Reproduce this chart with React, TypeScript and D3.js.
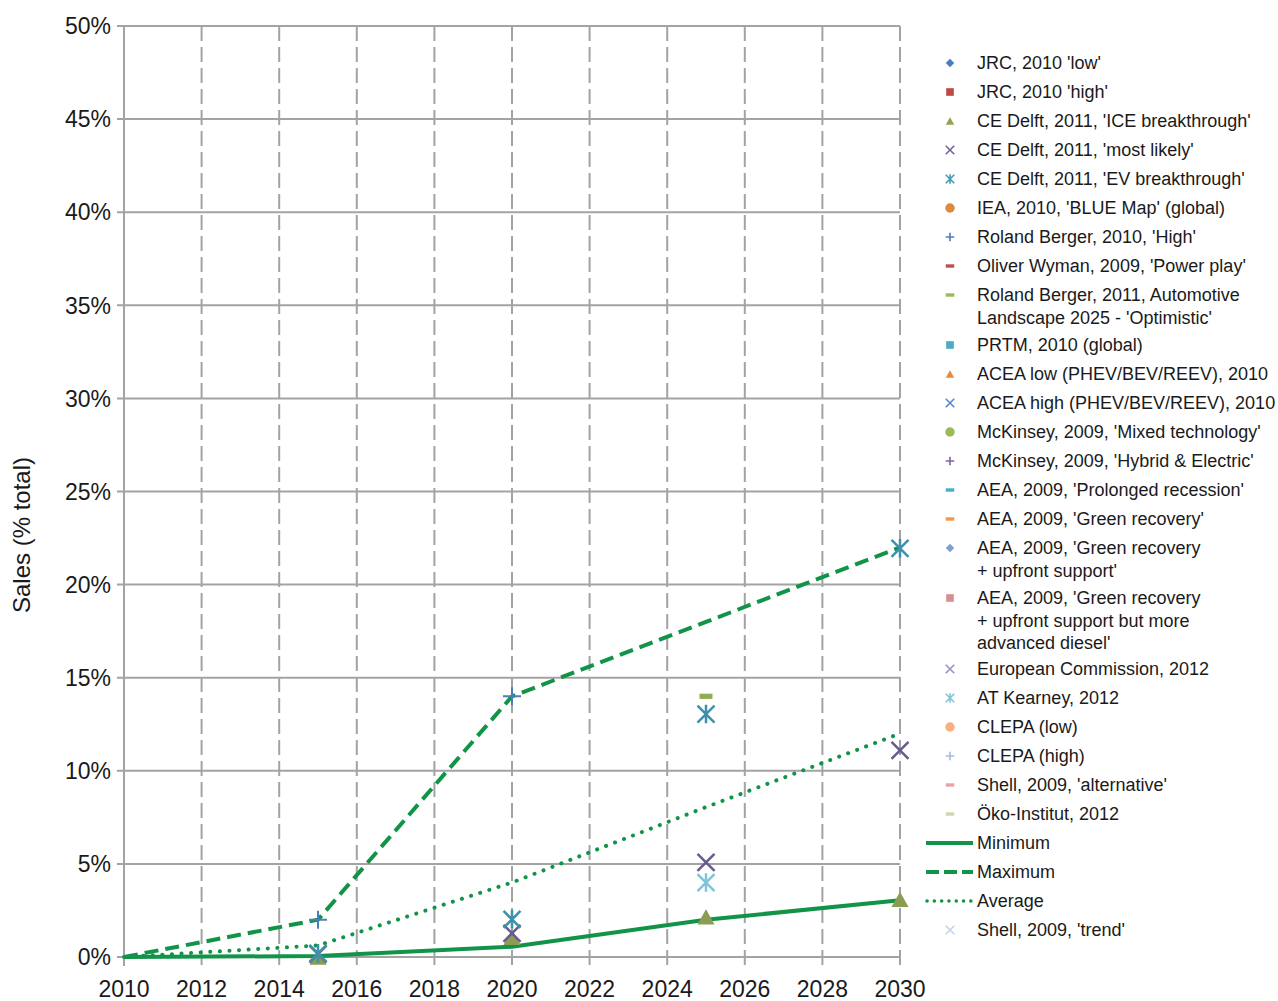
import React from "react";
import * as d3 from "d3";

// ---------- data ----------
const lineYears = [2010, 2015, 2020, 2025, 2030];
const minimumValues = [0, 0.05, 0.55, 2.0, 3.05];
const maximumValues = [0, 2, 14, 18, 22];
const averageValues = [0, 0.62, 4, 8.05, 12];

const rolandBerger2010High = [[2015, 2], [2020, 14]];
const ceDelftIce = [[2015, 0], [2020, 1.05], [2025, 2.15], [2030, 3.1]];
const ceDelftMostLikely = [[2015, 0.15], [2020, 1.27], [2025, 5.08], [2030, 11.1]];
const ceDelftEv = [[2015, 0.2], [2020, 2.02], [2025, 13.05], [2030, 21.95]];
const rolandBerger2011 = [[2025, 14.0]];
const atKearney2012 = [[2025, 4.0]];

const xTicks = [2010, 2012, 2014, 2016, 2018, 2020, 2022, 2024, 2026, 2028, 2030];
const yTicks = [0, 5, 10, 15, 20, 25, 30, 35, 40, 45, 50];

const legendLabels = [
  "JRC, 2010 'low'",
  "JRC, 2010 'high'",
  "CE Delft, 2011, 'ICE breakthrough'",
  "CE Delft, 2011, 'most likely'",
  "CE Delft, 2011, 'EV breakthrough'",
  "IEA, 2010, 'BLUE Map' (global)",
  "Roland Berger, 2010, 'High'",
  "Oliver Wyman, 2009, 'Power play'",
  "Roland Berger, 2011, Automotive\nLandscape 2025 - 'Optimistic'",
  "PRTM, 2010 (global)",
  "ACEA low (PHEV/BEV/REEV), 2010",
  "ACEA high (PHEV/BEV/REEV), 2010",
  "McKinsey, 2009, 'Mixed technology'",
  "McKinsey, 2009, 'Hybrid & Electric'",
  "AEA, 2009, 'Prolonged recession'",
  "AEA, 2009, 'Green recovery'",
  "AEA, 2009, 'Green recovery\n+ upfront support'",
  "AEA, 2009, 'Green recovery\n+ upfront support but more\nadvanced diesel'",
  "European Commission, 2012",
  "AT Kearney, 2012",
  "CLEPA (low)",
  "CLEPA (high)",
  "Shell, 2009, 'alternative'",
  "Öko-Institut, 2012",
  "Minimum",
  "Maximum",
  "Average",
  "Shell, 2009, 'trend'",
];
const legendShapes = [
  "diamond", "square", "triangle", "x", "star", "circle", "plus", "dash", "dash",
  "square", "triangle", "x", "circle", "plus", "dash", "dash", "diamond", "square",
  "x", "star", "circle", "plus", "dash", "dash", "solid", "dashed", "dotted", "x",
];
const legendColors = [
  "#4a7ebb", "#be4b48", "#8fa452", "#7d60a0", "#3f9db8", "#dd8a3e", "#4a7ebb", "#c0504d", "#9bbb59",
  "#4bacc6", "#e98b3c", "#5688cc", "#9bbb59", "#8064a2", "#4bacc6", "#f79646", "#7f9fd3", "#d98f8d",
  "#a08fc0", "#7fc4d9", "#f9b07f", "#a8badf", "#e3a8a6", "#ccd8ae", "#119447", "#119447", "#119447", "#c6d2e8",
];

// ---------- layout ----------
const W = 1278;
const H = 1001;
const X0 = 124, X1 = 900, Y0 = 957, Y1 = 26;
const GREEN = "#119447";
const GRID = "#a3a3a3";
const FONT = "'Liberation Sans', Arial, Helvetica, sans-serif";

const x = d3.scaleLinear().domain([2010, 2030]).range([X0, X1]);
const y = d3.scaleLinear().domain([0, 50]).range([Y0, Y1]);

function Marker({ shape, cx, cy, s, color, sw }: any) {
  const h = s / 2;
  switch (shape) {
    case "diamond":
      return <path d={`M${cx},${cy - h}L${cx + h},${cy}L${cx},${cy + h}L${cx - h},${cy}Z`} fill={color} />;
    case "square":
      return <rect x={cx - h * 0.9} y={cy - h * 0.9} width={s * 0.9} height={s * 0.9} fill={color} />;
    case "triangle":
      return <path d={`M${cx},${cy - h * 0.9}L${cx + h},${cy + h * 0.9}L${cx - h},${cy + h * 0.9}Z`} fill={color} />;
    case "circle":
      return <circle cx={cx} cy={cy} r={h} fill={color} />;
    case "x":
      return (
        <path d={`M${cx - h},${cy - h}L${cx + h},${cy + h}M${cx - h},${cy + h}L${cx + h},${cy - h}`} stroke={color} strokeWidth={sw} fill="none" />
      );
    case "star":
      return (
        <path
          d={`M${cx - h},${cy - h}L${cx + h},${cy + h}M${cx - h},${cy + h}L${cx + h},${cy - h}M${cx},${cy - h * 1.1}L${cx},${cy + h * 1.1}`}
          stroke={color}
          strokeWidth={sw}
          fill="none"
        />
      );
    case "plus":
      return <path d={`M${cx - h},${cy}L${cx + h},${cy}M${cx},${cy - h}L${cx},${cy + h}`} stroke={color} strokeWidth={sw} fill="none" />;
    case "dash":
      return <rect x={cx - h} y={cy - s * 0.2} width={s} height={s * 0.4} fill={color} />;
    default:
      return null;
  }
}

export default function App() {
  const line = d3
    .line<number>()
    .x((_, i) => x(lineYears[i]))
    .y((d) => y(d));

  const scatter: { data: number[][]; shape: string; color: string; s: number; sw: number }[] = [
    { data: ceDelftIce, shape: "triangle", color: "#8a9d52", s: 17, sw: 0 },
    { data: ceDelftMostLikely, shape: "x", color: "#6b5a8f", s: 17, sw: 2.5 },
    { data: ceDelftEv, shape: "star", color: "#3f91ab", s: 17, sw: 2.5 },
    { data: rolandBerger2010High, shape: "plus", color: "#4a7ebb", s: 18, sw: 2 },
    { data: rolandBerger2011, shape: "dash", color: "#92ab55", s: 13, sw: 0 },
    { data: atKearney2012, shape: "star", color: "#7fc4d9", s: 17, sw: 2.5 },
  ];

  // legend layout
  let ly = 63;
  const legendItems = legendLabels.map((label, i) => {
    const lines = label.split("\n");
    const item = { label, lines, y: ly, shape: legendShapes[i], color: legendColors[i] };
    ly += 29 + (lines.length - 1) * 21;
    return item;
  });

  return (
    <svg width={W} height={H} style={{ position: "absolute", left: 0, top: 0, background: "#fff" }} fontFamily={FONT}>
      {/* vertical dashed grid */}
      {xTicks.slice(1).map((t) => (
        <line key={"v" + t} x1={x(t)} x2={x(t)} y1={Y1} y2={Y0 + 9} stroke={GRID} strokeWidth={2} strokeDasharray="15 6" />
      ))}
      {/* horizontal grid */}
      {yTicks.map((t) => (
        <line key={"h" + t} x1={X0 - 7} x2={X1} y1={y(t)} y2={y(t)} stroke={GRID} strokeWidth={2} />
      ))}
      {/* left axis */}
      <line x1={X0} x2={X0} y1={Y1} y2={Y0 + 9} stroke={GRID} strokeWidth={2} />

      {/* y labels */}
      {yTicks.map((t) => (
        <text key={"yl" + t} x={111} y={y(t)} dy="0.36em" textAnchor="end" fontSize={23} fill="#1a1a1a">
          {t}%
        </text>
      ))}
      {/* x labels */}
      {xTicks.map((t) => (
        <text key={"xl" + t} x={x(t)} y={997} textAnchor="middle" fontSize={23} fill="#1a1a1a">
          {t}
        </text>
      ))}
      <text transform={`translate(30,535) rotate(-90)`} textAnchor="middle" fontSize={24} fill="#1a1a1a">
        Sales (% total)
      </text>

      {/* lines */}
      <path d={line(minimumValues) || ""} fill="none" stroke={GREEN} strokeWidth={4} />
      <path d={line(maximumValues) || ""} fill="none" stroke={GREEN} strokeWidth={4} strokeDasharray="14 7" />
      <path d={line(averageValues) || ""} fill="none" stroke={GREEN} strokeWidth={4} strokeDasharray="0.1 9.5" strokeLinecap="round" />

      {/* scatter markers */}
      {scatter.map((sr, si) =>
        sr.data.map((p, pi) => (
          <Marker key={si + "-" + pi} shape={sr.shape} cx={x(p[0])} cy={y(p[1])} s={sr.s} color={sr.color} sw={sr.sw} />
        ))
      )}

      {/* legend */}
      {legendItems.map((it, i) => (
        <g key={"lg" + i}>
          {it.shape === "solid" && <line x1={926} x2={973} y1={it.y} y2={it.y} stroke={GREEN} strokeWidth={4} />}
          {it.shape === "dashed" && (
            <line x1={926} x2={973} y1={it.y} y2={it.y} stroke={GREEN} strokeWidth={4} strokeDasharray="13 5" />
          )}
          {it.shape === "dotted" && (
            <line x1={927} x2={972} y1={it.y} y2={it.y} stroke={GREEN} strokeWidth={3.5} strokeDasharray="0.1 7.2" strokeLinecap="round" />
          )}
          {!["solid", "dashed", "dotted"].includes(it.shape) && (
            <Marker
              shape={it.shape}
              cx={950}
              cy={it.y}
              s={it.shape === "circle" ? 9.5 : 8.5}
              color={it.color}
              sw={1.6}
            />
          )}
          <text x={977} y={it.y} fontSize={18} fill="#1a1a1a">
            {it.lines.map((ln, k) => (
              <tspan key={k} x={977} dy={k === 0 ? "0.36em" : 22.5}>
                {ln}
              </tspan>
            ))}
          </text>
        </g>
      ))}
    </svg>
  );
}
